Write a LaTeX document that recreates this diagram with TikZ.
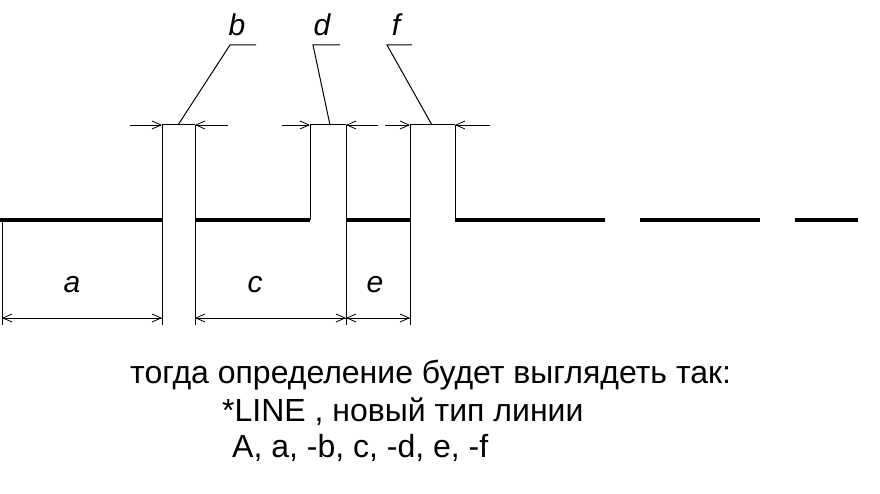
\documentclass[tikz,border=0pt]{standalone}
\usepackage{fontspec}
\setmainfont{Liberation Sans}
\usetikzlibrary{positioning, arrows.meta}

\tikzset{
  seg/.style={line width=4pt},
  ext/.style={line width=1pt},
  dim/.style={line width=0.8pt, -{Straight Barb[length=9pt,width=8pt]}},
  lbl/.style={font=\itshape\fontsize{30}{34}\selectfont},
  txt/.style={font=\fontsize{32}{36}\selectfont, anchor=west, inner sep=0pt}
}

\begin{document}
\begin{tikzpicture}[x=1pt,y=-1pt]
        \useasboundingbox (0,0) rectangle (880,494);
        % base points on the line
        \foreach \n/\x in {p0/2, p1/162, p2/195, p3/310, p4/346, p5/410, p6/455}
            \coordinate (\n) at (\x,220);
        \foreach \n/\x in {p0/2, p1/162, p2/195, p4/346, p5/410}
            \coordinate (\n l) at (\x,325);
        \foreach \n/\x in {p1/162, p2/195, p3/310, p4/346, p5/410, p6/455}
            \coordinate (\n t) at (\x,125);

        % the dashes
        \draw[seg] (0,220) -- (p1);
        \draw[seg] (p2) -- (p3);
        \draw[seg] (p4) -- (p5);
        \draw[seg] (p6) -- (605,220);
        \draw[seg] (640,220) -- (760,220);
        \draw[seg] (795,220) -- (858,220);

        % extension lines
        \foreach \n in {p0, p1, p2, p4, p5}
            \draw[ext] (\n) -- (\n l);
        \foreach \n in {p1, p2, p3, p4, p5, p6}
            \draw[ext] (\n) -- (\n t);

        % lower dimensions
        \foreach \u/\v/\l/\x in {p0/p1/a/72, p2/p4/c/255, p4/p5/e/375} {
            \draw[dim] ([yshift=7pt]\u l) -- ([yshift=7pt]\v l);
            \draw[dim] ([yshift=7pt]\v l) -- ([yshift=7pt]\u l);
            \node[lbl] (lab\l) at (\x,285) {\l};
        }

        % upper dimensions (arrows from outside)
        \coordinate (q1) at (130,125);
        \coordinate (q2) at (228,125);
        \coordinate (q3) at (282,125);
        \coordinate (q4) at (378,125);
        \coordinate (q5) at (385,125);
        \coordinate (q6) at (490,125);
        \draw[dim] (q1) -- (p1t);
        \draw[dim] (q2) -- (p2t);
        \draw[dim] (q3) -- (p3t);
        \draw[dim] (q4) -- (p4t);
        \draw[dim] (q5) -- (p5t);
        \draw[dim] (q6) -- (p6t);
        \draw[ext] (p1t) -- (p2t);
        \draw[ext] (p3t) -- (p4t);
        \draw[ext] (p5t) -- (p6t);

        % leaders
        \node[lbl] (labb) at (237,25) {b};
        \node[lbl] (labd) at (322,25) {d};
        \node[lbl] (labf) at (396,25) {f};
        \draw[ext] (178,125) -- (230,45) -- (256,45);
        \draw[ext] (330,125) -- (313,45) -- (340,45);
        \draw[ext] (432,125) -- (387,45) -- (412,45);

        % text
        \node[txt] (t1) at (130,375) {тогда определение будет выглядеть так:};
        \node[txt] (t2) at (222,412) {*LINE , новый тип линии};
        \node[txt] (t3) at (232,448) {A, a, -b, c, -d, e, -f};
\end{tikzpicture}
\end{document}
